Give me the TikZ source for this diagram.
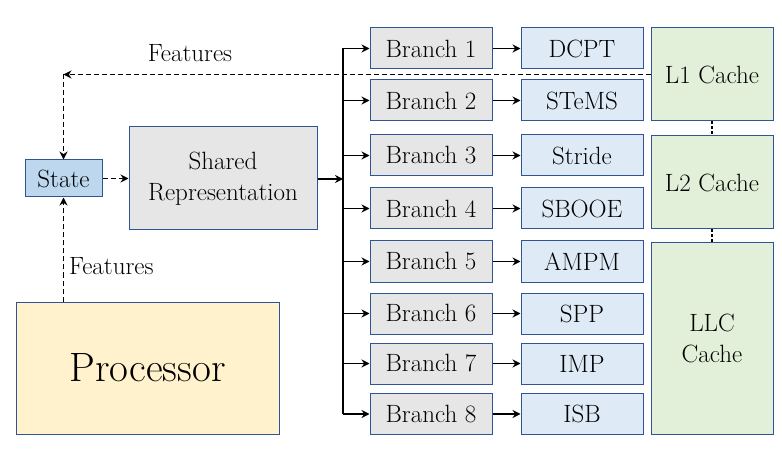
\documentclass[tikz,border=0pt]{standalone}
\usetikzlibrary{arrows.meta,positioning}

\definecolor{boxline}{HTML}{2F5597}
\definecolor{statefill}{HTML}{BDD7EE}
\definecolor{greyfill}{HTML}{E7E6E6}
\definecolor{pffill}{HTML}{DEEBF7}
\definecolor{cachefill}{HTML}{E2F0D9}
\definecolor{procfill}{HTML}{FFF2CC}

\begin{document}
\begin{tikzpicture}[x=1pt,y=-1pt,
    font=\fontsize{25}{31}\selectfont,
    every node/.style={inner sep=0pt, align=center},
    branchbox/.style={draw=boxline, line width=1pt, fill=greyfill, minimum width=122pt, minimum height=41pt},
    pfbox/.style={draw=boxline, line width=1pt, fill=pffill, minimum width=122pt, minimum height=41pt},
    cachebox/.style={draw=boxline, line width=1pt, fill=cachefill, minimum width=122pt},
    featline/.style={dash pattern=on 5pt off 3pt, line width=1.8pt, -{Stealth[length=8pt,width=8pt]}},
    busarrow/.style={line width=1.8pt, -{Stealth[length=8pt,width=8pt]}}]
    \useasboundingbox (0,0) rectangle (782,449);
        % left part
        \node[draw=boxline, line width=1pt, fill=statefill, minimum width=77pt, minimum height=37pt] (state) at (63.5,178.5) {State};
        \node[draw=boxline, line width=1pt, fill=greyfill, minimum width=188pt, minimum height=103pt] (shared) at (223,178.5) {Shared\\Representation};
        \node[draw=boxline, line width=1pt, fill=procfill, minimum width=263pt, minimum height=132pt, font=\fontsize{41}{48}\selectfont] (proc) at (147.5,368) {Processor};
        % branches and prefetchers
        \node[branchbox] (branch1) at (431,48.5) {Branch 1};
        \node[pfbox, right=28pt of branch1] (dcpt) {DCPT};
        \node[branchbox] (branch2) at (431,100.5) {Branch 2};
        \node[pfbox, right=28pt of branch2] (stems) {STeMS};
        \node[branchbox] (branch3) at (431,155.5) {Branch 3};
        \node[pfbox, right=28pt of branch3] (stride) {Stride};
        \node[branchbox] (branch4) at (431,208.5) {Branch 4};
        \node[pfbox, right=28pt of branch4] (sbooe) {SBOOE};
        \node[branchbox] (branch5) at (431,261.5) {Branch 5};
        \node[pfbox, right=28pt of branch5] (ampm) {AMPM};
        \node[branchbox] (branch6) at (431,313.5) {Branch 6};
        \node[pfbox, right=28pt of branch6] (spp) {SPP};
        \node[branchbox] (branch7) at (431,363.5) {Branch 7};
        \node[pfbox, right=28pt of branch7] (imp) {IMP};
        \node[branchbox] (branch8) at (431,414) {Branch 8};
        \node[pfbox, right=28pt of branch8] (isb) {ISB};
        % caches
        \node[cachebox, minimum height=93pt] (l1) at (712,74.5) {L1 Cache};
        \node[cachebox, minimum height=93pt] (l2) at (712,182.5) {L2 Cache};
        \node[cachebox, minimum height=191pt] (llc) at (712,338.5) {LLC\\Cache};
        \draw[line width=1.2pt, dash pattern=on 3pt off 2pt] (l1.south) -- (l2.north);
        \draw[line width=1.2pt, dash pattern=on 3pt off 2pt] (l2.south) -- (llc.north);
        % bus from shared representation
        \coordinate (bus) at (343,179);
        \draw[busarrow] (shared.east |- bus) -- (bus);
        \draw[line width=2.8pt] (bus |- branch1.west) -- (bus |- branch8.west);
        \draw[busarrow] (bus |- branch1.west) -- (branch1.west);
        \draw[busarrow] (bus |- branch2.west) -- (branch2.west);
        \draw[busarrow] (bus |- branch3.west) -- (branch3.west);
        \draw[busarrow] (bus |- branch4.west) -- (branch4.west);
        \draw[busarrow] (bus |- branch5.west) -- (branch5.west);
        \draw[busarrow] (bus |- branch6.west) -- (branch6.west);
        \draw[busarrow] (bus |- branch7.west) -- (branch7.west);
        \draw[busarrow] (bus |- branch8.west) -- (branch8.west);
        \draw[busarrow] (branch1.east) -- (dcpt.west);
        \draw[busarrow] (branch2.east) -- (stems.west);
        \draw[busarrow] (branch3.east) -- (stride.west);
        \draw[busarrow] (branch4.east) -- (sbooe.west);
        \draw[busarrow] (branch5.east) -- (ampm.west);
        \draw[busarrow] (branch6.east) -- (spp.west);
        \draw[busarrow] (branch7.east) -- (imp.west);
        \draw[busarrow] (branch8.east) -- (isb.west);
        % features
        \coordinate (fcorner) at (state.north |- l1.west);
        \draw[featline] (l1.west) -- (fcorner);
        \draw[featline] (fcorner) -- (state.north);
        \node (featuresup) at (190,53) {Features};
        \draw[featline] (state.south |- proc.north) -- (state.south);
        \node[anchor=west] (featureslow) at (69,266) {Features};
        \draw[featline] (state.east) -- (shared.west);
    \end{tikzpicture}
\end{document}
